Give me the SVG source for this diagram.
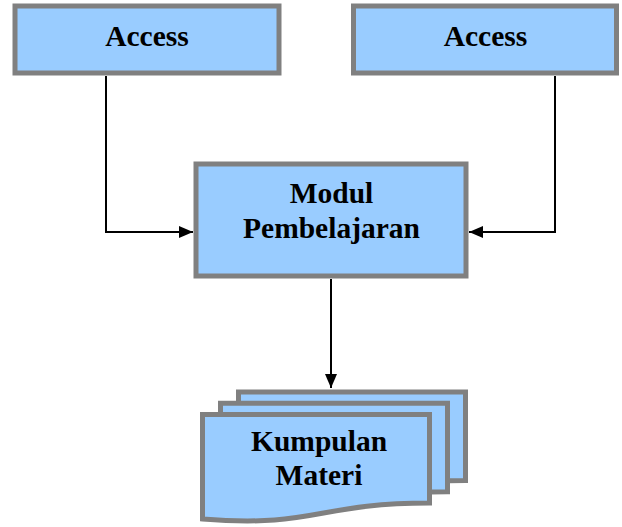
<svg xmlns="http://www.w3.org/2000/svg" width="622" height="527" viewBox="0 0 622 527">
<style>
.box{fill:#99CCFF;stroke:#808080;stroke-width:5}
.lbl{font-family:"Liberation Serif","Times New Roman",serif;font-weight:bold;font-size:29.5px;fill:#000;text-anchor:middle}
.con{fill:none;stroke:#000;stroke-width:2}
</style>
<defs>
<marker id="arr" markerUnits="userSpaceOnUse" markerWidth="14" markerHeight="12" refX="14" refY="6" orient="auto">
<path d="M0,0 L14,6 L0,12 Z" fill="#000"/>
</marker>
<path id="doc" d="M202.5,414.5 H429.5 V503 C316,503 316,528 202.5,519 Z"/>
</defs>
<rect width="622" height="527" fill="#fff"/>
<g id="connectors">
<path class="con" d="M106,76 V232 H193" marker-end="url(#arr)"/>
<path class="con" d="M555,76 V232 H469" marker-end="url(#arr)"/>
<path class="con" d="M331,279 V388" marker-end="url(#arr)"/>
</g>
<g id="access-left">
<rect class="box" x="15" y="6" width="264" height="67"/>
<text class="lbl" x="147" y="46">Access</text>
</g>
<g id="access-right">
<rect class="box" x="353.5" y="6" width="263" height="67"/>
<text class="lbl" x="485.5" y="46">Access</text>
</g>
<g id="modul">
<rect class="box" x="196" y="164" width="270" height="112"/>
<text class="lbl" x="331.5" y="203">Modul</text>
<text class="lbl" x="331.5" y="238">Pembelajaran</text>
</g>
<g id="kumpulan-materi">
<use href="#doc" class="box" transform="translate(36,-22.5)"/>
<use href="#doc" class="box" transform="translate(18,-11.3)"/>
<use href="#doc" class="box"/>
<text class="lbl" x="319" y="451">Kumpulan</text>
<text class="lbl" x="319" y="485">Materi</text>
</g>
</svg>
